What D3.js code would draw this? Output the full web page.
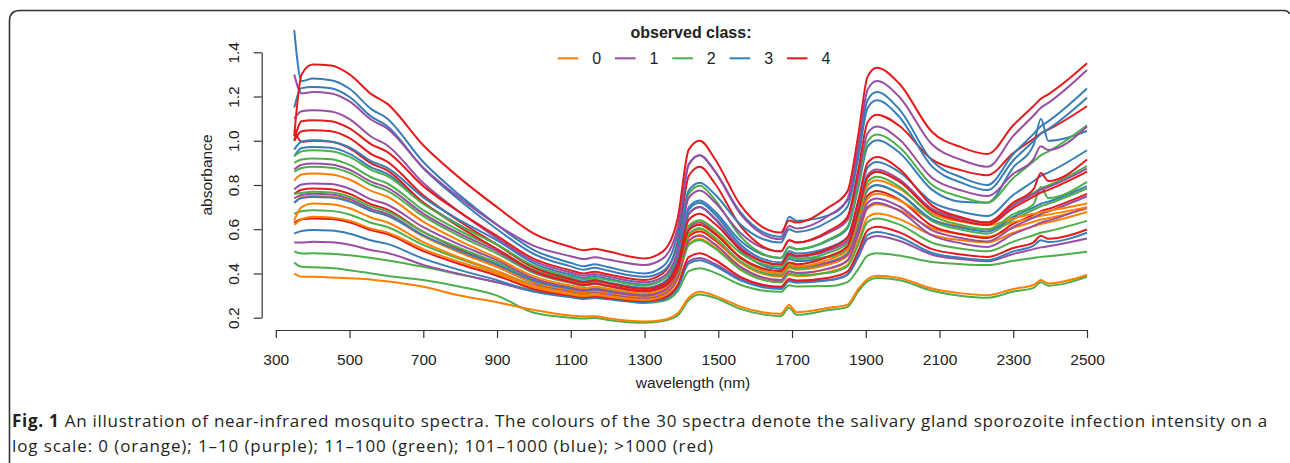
<!DOCTYPE html>
<html>
<head>
<meta charset="utf-8">
<script src="https://cdn.jsdelivr.net/npm/d3@7"></script>
<style>
  html, body { margin: 0; padding: 0; background: #fff; }
  svg { display: block; }
</style>
</head>
<body>
<svg id="chart" width="1290" height="463"></svg>
<script>
// ---------------- data ----------------
const wavelength = [350, 370, 400, 450, 500, 560, 600, 700, 800, 900, 1000, 1100, 1135, 1165, 1200, 1300, 1350, 1390, 1420, 1450, 1490, 1560, 1620, 1670, 1692, 1712, 1800, 1850, 1880, 1905, 1930, 1990, 2080, 2160, 2230, 2300, 2355, 2375, 2395, 2500];

const classLabels = ["0", "1", "2", "3", "4"];
const classColors = ["#FF7F00", "#984EA3", "#4DAF4A", "#377EB8", "#E41A1C"];

const xTicks = [300, 500, 700, 900, 1100, 1300, 1500, 1700, 1900, 2100, 2300, 2500];
const yTicks = [0.2, 0.4, 0.6, 0.8, 1.0, 1.2, 1.4];

// class 4 (red)
const r1 = [1.02,1.30,1.345,1.34,1.30, 1.21,1.17,0.98,0.83,0.70, 0.58,0.52,0.505,0.512,0.50, 0.468,0.50,0.65,0.96,1.00, 0.92,0.71,0.61,0.585,0.64, 0.63,0.70,0.77,1.03,1.29, 1.33,1.26,1.04,0.97,0.94, 1.07,1.157,1.19,1.21,1.35];
const r2 = [1.00,1.088,1.093,1.088,1.056, 0.983,0.952,0.795,0.675,0.57, 0.466,0.414,0.40,0.408,0.396, 0.37,0.401,0.544,0.841,0.882, 0.809,0.615,0.523,0.50,0.55, 0.54,0.593,0.655,0.871,1.084, 1.118,1.069,0.915,0.866,0.844, 0.944,1.009,1.034,1.05,1.156];
const r3 = [1.00,1.043,1.048,1.043,1.012, 0.939,0.908,0.753,0.634,0.53, 0.426,0.374,0.36,0.368,0.356, 0.33,0.35,0.446,0.643,0.67, 0.626,0.509,0.454,0.44,0.49, 0.48,0.513,0.562,0.732,0.90, 0.927,0.874,0.707,0.654,0.63, 0.721,0.781,0.854,0.818,0.915];
const r4 = [1.05,0.995,1.00,0.995,0.966, 0.897,0.868,0.721,0.608,0.51, 0.411,0.362,0.348,0.356,0.345, 0.32,0.338,0.422,0.596,0.62, 0.58,0.473,0.423,0.41,0.45, 0.442,0.478,0.523,0.68,0.835, 0.86,0.817,0.682,0.639,0.62, 0.697,0.747,0.766,0.778,0.86];
const r5 = [0.76,0.779,0.784,0.781,0.76, 0.712,0.691,0.588,0.509,0.44, 0.367,0.331,0.321,0.327,0.318, 0.30,0.317,0.399,0.567,0.59, 0.552,0.45,0.402,0.39,0.43, 0.422,0.447,0.486,0.62,0.752, 0.773,0.735,0.615,0.577,0.56, 0.624,0.666,0.682,0.692,0.76];
const r6 = [0.63,0.645,0.649,0.646,0.631, 0.595,0.579,0.501,0.442,0.39, 0.33,0.30,0.292,0.297,0.29, 0.275,0.288,0.348,0.474,0.491, 0.462,0.385,0.349,0.34,0.375, 0.368,0.381,0.408,0.503,0.596, 0.611,0.587,0.51,0.486,0.475, 0.515,0.541,0.57,0.557,0.599];
// class 3 (blue)
const b1 = [1.50,1.27,1.281,1.274,1.235, 1.142,1.103,0.904,0.752,0.62, 0.506,0.448,0.433,0.442,0.429, 0.40,0.432,0.582,0.892,0.935, 0.865,0.677,0.588,0.566,0.656, 0.638,0.664,0.73,0.958,1.184, 1.22,1.144,0.909,0.834,0.80, 0.94,1.031,1.066,1.088,1.236];
const b2 = [1.15,1.238,1.243,1.237,1.198, 1.108,1.069,0.876,0.729,0.60, 0.488,0.432,0.417,0.426,0.413, 0.385,0.411,0.53,0.776,0.81, 0.759,0.621,0.556,0.54,0.60, 0.588,0.636,0.701,0.926,1.148, 1.183,1.11,0.883,0.81,0.777, 0.911,0.999,1.032,1.053,1.195];
const b3 = [0.96,0.997,1.002,0.997,0.97, 0.907,0.88,0.744,0.64,0.55, 0.446,0.394,0.38,0.388,0.376, 0.35,0.373,0.479,0.70,0.73, 0.681,0.548,0.486,0.47,0.52, 0.51,0.55,0.603,0.789,0.973, 1.002,0.948,0.778,0.724,0.72, 0.88,0.98,1.10,1.00,1.044];
const b4 = [0.93,0.967,0.972,0.968,0.941, 0.879,0.853,0.72,0.618,0.53, 0.429,0.378,0.364,0.372,0.36, 0.335,0.358,0.466,0.689,0.72, 0.669,0.531,0.466,0.45,0.50, 0.49,0.518,0.564,0.722,0.879, 0.904,0.86,0.723,0.679,0.66, 0.755,0.817,0.841,0.856,0.957];
const b5 = [0.72,0.741,0.746,0.743,0.725, 0.682,0.663,0.572,0.501,0.44, 0.367,0.331,0.321,0.327,0.318, 0.30,0.324,0.436,0.668,0.70, 0.647,0.504,0.437,0.42,0.465, 0.456,0.477,0.515,0.648,0.779, 0.80,0.762,0.645,0.607,0.59, 0.656,0.699,0.715,0.725,0.795];
const b6 = [0.58,0.592,0.596,0.594,0.58, 0.549,0.535,0.467,0.415,0.37, 0.318,0.292,0.285,0.289,0.283, 0.27,0.281,0.335,0.445,0.46, 0.435,0.369,0.338,0.33,0.365, 0.358,0.369,0.395,0.485,0.574, 0.588,0.565,0.493,0.47,0.46, 0.50,0.526,0.55,0.542,0.584];
// class 1 (purple)
const p1 = [1.30,1.215,1.22,1.214,1.178, 1.094,1.058,0.878,0.74,0.62, 0.525,0.478,0.465,0.473,0.463, 0.438,0.468,0.607,0.895,0.935, 0.863,0.669,0.578,0.555,0.615, 0.603,0.662,0.734,0.984,1.231, 1.27,1.20,0.983,0.913,0.882, 1.022,1.114,1.149,1.171,1.32];
const p2 = [1.10,1.133,1.138,1.132,1.098, 1.017,0.982,0.809,0.676,0.56, 0.456,0.404,0.39,0.398,0.386, 0.36,0.385,0.501,0.742,0.775, 0.723,0.583,0.516,0.50,0.55, 0.54,0.585,0.641,0.839,1.034, 1.065,1.008,0.832,0.775,0.75, 0.851,0.917,0.975,0.958,1.065];
const p3 = [0.87,0.892,0.897,0.893,0.869, 0.814,0.79,0.671,0.579,0.50, 0.406,0.36,0.347,0.354,0.343, 0.32,0.343,0.449,0.67,0.70, 0.651,0.518,0.456,0.44,0.485, 0.476,0.505,0.548,0.698,0.846, 0.87,0.827,0.692,0.649,0.63, 0.708,0.759,0.779,0.791,0.874];
const p4 = [0.78,0.802,0.807,0.804,0.783, 0.734,0.713,0.609,0.529,0.46, 0.377,0.335,0.324,0.33,0.321, 0.30,0.32,0.412,0.604,0.63, 0.586,0.469,0.414,0.40,0.44, 0.432,0.451,0.485,0.603,0.72, 0.739,0.704,0.595,0.56,0.545, 0.61,0.653,0.669,0.68,0.749];
const p5 = [0.74,0.755,0.76,0.757,0.737, 0.691,0.671,0.572,0.496,0.43, 0.357,0.321,0.311,0.317,0.308, 0.29,0.307,0.385,0.548,0.57, 0.532,0.43,0.382,0.37,0.41, 0.402,0.423,0.458,0.58,0.701, 0.72,0.684,0.572,0.536,0.52, 0.578,0.615,0.63,0.639,0.70];
const p6 = [0.54,0.54,0.543,0.541,0.53, 0.505,0.494,0.439,0.397,0.36, 0.318,0.298,0.292,0.295,0.291, 0.28,0.291,0.345,0.455,0.47, 0.444,0.376,0.343,0.335,0.37, 0.363,0.37,0.394,0.475,0.556, 0.569,0.548,0.485,0.464,0.455, 0.488,0.51,0.518,0.523,0.558];
// class 2 (green)
const g1 = [0.93,0.952,0.957,0.953,0.927, 0.867,0.842,0.714,0.615,0.53, 0.434,0.386,0.373,0.38,0.371, 0.345,0.372,0.499,0.761,0.797, 0.735,0.568,0.49,0.47,0.52, 0.51,0.554,0.61,0.805,0.997, 1.028,0.973,0.80,0.745,0.72, 0.832,0.906,0.934,0.951,1.07];
const g2 = [0.90,0.915,0.92,0.916,0.891, 0.834,0.809,0.686,0.592,0.51, 0.416,0.37,0.357,0.364,0.355, 0.33,0.349,0.435,0.615,0.64, 0.60,0.493,0.443,0.43,0.475, 0.466,0.494,0.537,0.687,0.835, 0.859,0.818,0.69,0.648,0.63, 0.712,0.765,0.786,0.798,0.885];
const g3 = [0.86,0.877,0.882,0.878,0.855, 0.80,0.776,0.659,0.568,0.49, 0.402,0.357,0.345,0.352,0.342, 0.32,0.338,0.422,0.596,0.62, 0.58,0.473,0.423,0.41,0.48, 0.466,0.474,0.517,0.666,0.814, 0.837,0.794,0.662,0.619,0.60, 0.668,0.713,0.791,0.741,0.814];
const g4 = [0.76,0.764,0.769,0.766,0.747, 0.702,0.683,0.587,0.514,0.45, 0.375,0.337,0.327,0.333,0.325, 0.305,0.323,0.407,0.581,0.605, 0.564,0.455,0.403,0.39,0.43, 0.422,0.451,0.492,0.635,0.777, 0.799,0.76,0.637,0.598,0.58, 0.645,0.688,0.704,0.715,0.784];
const g5 = [0.67,0.681,0.686,0.683,0.667, 0.628,0.611,0.529,0.465,0.41, 0.348,0.316,0.308,0.313,0.306, 0.29,0.306,0.378,0.529,0.55, 0.514,0.417,0.371,0.36,0.40, 0.392,0.403,0.432,0.533,0.633, 0.649,0.622,0.539,0.512,0.50, 0.544,0.573,0.584,0.591,0.638];
const g6 = [0.50,0.49,0.491,0.489,0.482, 0.47,0.46,0.43,0.395,0.36, 0.325,0.30,0.292,0.295,0.29, 0.266,0.275,0.32,0.411,0.424, 0.404,0.349,0.323,0.317,0.347, 0.341,0.343,0.361,0.421,0.481, 0.491,0.481,0.452,0.442,0.438, 0.457,0.47,0.475,0.478,0.498];
const g7 = [0.45,0.43,0.428,0.425,0.415, 0.40,0.39,0.37,0.34,0.30, 0.222,0.20,0.196,0.199,0.19, 0.177,0.185,0.21,0.28,0.305, 0.29,0.24,0.215,0.207,0.245, 0.213,0.235,0.248,0.32,0.365, 0.38,0.37,0.322,0.298,0.29, 0.318,0.335,0.36,0.345,0.385];
// class 0 (orange)
const o1 = [0.82,0.847,0.852,0.848,0.825, 0.772,0.749,0.634,0.546,0.47, 0.387,0.345,0.334,0.34,0.332, 0.31,0.33,0.423,0.615,0.641, 0.595,0.472,0.414,0.40,0.44, 0.432,0.463,0.506,0.653,0.799, 0.822,0.785,0.671,0.634,0.618, 0.649,0.67,0.678,0.683,0.716];
const o2 = [0.72,0.745,0.75,0.747,0.728, 0.683,0.664,0.568,0.494,0.43, 0.36,0.325,0.315,0.321,0.313, 0.295,0.313,0.399,0.576,0.60, 0.559,0.45,0.398,0.385,0.425, 0.417,0.441,0.479,0.61,0.739, 0.76,0.731,0.642,0.613,0.60, 0.632,0.653,0.661,0.666,0.70];
const o3 = [0.64,0.70,0.716,0.713,0.695, 0.652,0.633,0.542,0.471,0.41, 0.345,0.313,0.304,0.309,0.302, 0.285,0.302,0.383,0.55,0.573, 0.534,0.431,0.382,0.37,0.41, 0.402,0.421,0.456,0.576,0.694, 0.713,0.687,0.604,0.578,0.566, 0.607,0.634,0.644,0.65,0.694];
const o4 = [0.62,0.645,0.656,0.653,0.638, 0.602,0.587,0.51,0.451,0.40, 0.338,0.306,0.298,0.303,0.296, 0.28,0.297,0.374,0.534,0.556, 0.519,0.419,0.372,0.36,0.395, 0.388,0.407,0.438,0.547,0.654, 0.671,0.647,0.574,0.55,0.54, 0.584,0.613,0.624,0.631,0.678];
const o5 = [0.40,0.385,0.385,0.382,0.378, 0.372,0.365,0.34,0.30,0.27, 0.235,0.21,0.205,0.207,0.198, 0.183,0.19,0.22,0.29,0.317, 0.30,0.25,0.225,0.218,0.257, 0.225,0.245,0.258,0.33,0.375, 0.39,0.38,0.332,0.31,0.302, 0.33,0.348,0.37,0.355,0.393];

// drawing order and the class of each spectrum
const spectra      = [g7, o5, g6, p6, b6, r6, o4, g5, o3, p5, r5, o2, g4, b5, p4, o1, g3, g2, p3, b4, r4, r3, b3, g1, p2, r2, b2, b1, p1, r1];
const spectraClass = [ 2,  0,  2,  1,  3,  4,  0,  2,  0,  1,  4,  0,  2,  3,  1,  0,  2,  2,  1,  3,  4,  4,  3,  2,  1,  4,  3,  3,  1,  4];

const captionBold = "Fig. 1";
const captionLine1 = " An illustration of near-infrared mosquito spectra. The colours of the 30 spectra denote the salivary gland sporozoite infection intensity on a";
const captionLine2 = "log scale: 0 (orange); 1–10 (purple); 11–100 (green); 101–1000 (blue); >1000 (red)";

// ---------------- drawing ----------------
const svg = d3.select("#chart");
const FONT = "'Liberation Sans', Arial, Helvetica, sans-serif";

const x = d3.scaleLinear().domain([300, 2500]).range([275.8, 1087]);
const y = d3.scaleLinear().domain([0.2, 1.4]).range([317.7, 52.3]);

// frame of the figure box
svg.append("path")
  .attr("d", "M9.5,463 L9.5,21 Q9.5,10.5 20,10.5 L1284,10.5 Q1288,10.5 1289.5,14")
  .attr("fill", "none").attr("stroke", "#333").attr("stroke-width", 1.6);

// spectra
const line = d3.line()
  .x((d, i) => x(wavelength[i]))
  .y(d => y(d))
  .curve(d3.curveMonotoneX);

svg.append("g").selectAll("path")
  .data(spectra)
  .join("path")
  .attr("d", d => line(d))
  .attr("fill", "none")
  .attr("stroke", (d, i) => classColors[spectraClass[i]])
  .attr("stroke-width", 2)
  .attr("stroke-linejoin", "round");

// x axis
const xAxis = svg.append("g")
  .attr("transform", "translate(0,330)")
  .call(d3.axisBottom(x).tickValues(xTicks).tickFormat(d3.format("d")).tickSize(8).tickSizeOuter(0).tickPadding(16));
xAxis.select(".domain").attr("stroke", "#333").attr("stroke-width", 1.2);
xAxis.selectAll(".tick line").attr("stroke", "#333").attr("stroke-width", 1.2);
xAxis.selectAll("text").attr("font-family", FONT).attr("font-size", "15.5px").attr("fill", "#222");

// y axis
const yAxis = svg.append("g")
  .attr("transform", "translate(261.7,0)")
  .call(d3.axisLeft(y).tickValues(yTicks).tickFormat(d3.format(".1f")).tickSize(8).tickSizeOuter(0));
yAxis.select(".domain").attr("stroke", "#333").attr("stroke-width", 1.2);
yAxis.selectAll(".tick line").attr("stroke", "#333").attr("stroke-width", 1.2);
yAxis.selectAll("text")
  .attr("x", null).attr("dy", null)
  .attr("text-anchor", "middle")
  .attr("transform", "translate(-22.4,0) rotate(-90)")
  .attr("font-family", FONT).attr("font-size", "15.5px").attr("fill", "#222");

// axis titles
svg.append("text")
  .attr("transform", "translate(211.5,175) rotate(-90)")
  .attr("text-anchor", "middle")
  .attr("font-family", FONT).attr("font-size", "15.5px").attr("fill", "#222")
  .text("absorbance");

svg.append("text")
  .attr("x", 693).attr("y", 388)
  .attr("text-anchor", "middle")
  .attr("font-family", FONT).attr("font-size", "15.5px").attr("fill", "#222")
  .text("wavelength (nm)");

// legend
svg.append("text")
  .attr("x", 691).attr("y", 38.3)
  .attr("text-anchor", "middle")
  .attr("font-family", FONT).attr("font-size", "16px").attr("font-weight", "bold").attr("fill", "#222")
  .text("observed class:");

const legend = svg.append("g").selectAll("g")
  .data(classLabels)
  .join("g")
  .attr("transform", (d, i) => `translate(${557.7 + i * 57.3},58.3)`);
legend.append("line")
  .attr("x1", 0).attr("x2", 20.6).attr("y1", 0).attr("y2", 0)
  .attr("stroke", (d, i) => classColors[i]).attr("stroke-width", 2);
legend.append("text")
  .attr("x", 39).attr("y", 5.5)
  .attr("text-anchor", "middle")
  .attr("font-family", FONT).attr("font-size", "16px").attr("fill", "#222")
  .text(d => d);

// caption (letter spacing stretched so that the lines end where the original's do)
const CAP = "'Open Sans', 'Noto Sans', sans-serif";
function fitSpacing(sel, target) {
  const len = sel.node().getComputedTextLength();
  const n = sel.text().length;
  sel.attr("letter-spacing", ((target - len) / n).toFixed(3) + "px");
}
const cap1 = svg.append("text").attr("x", 12).attr("y", 427.3)
  .attr("font-family", CAP).attr("font-size", "17px").attr("fill", "#231f20");
cap1.append("tspan").attr("font-weight", "bold").text(captionBold);
cap1.append("tspan").text(captionLine1);
fitSpacing(cap1, 1256);
const cap2 = svg.append("text").attr("x", 12).attr("y", 451.7)
  .attr("font-family", CAP).attr("font-size", "17px").attr("fill", "#231f20")
  .text(captionLine2);
fitSpacing(cap2, 702);
</script>
</body>
</html>
